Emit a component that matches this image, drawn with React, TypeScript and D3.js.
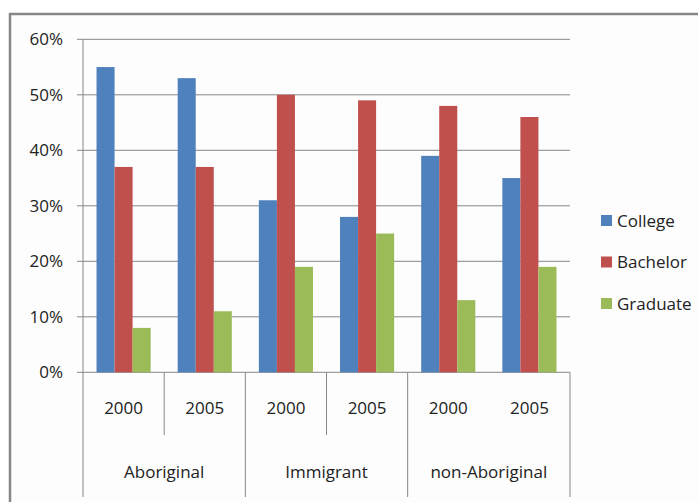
import React from "react";
import * as d3 from "d3";

const groups = ["Aboriginal", "Immigrant", "non-Aboriginal"];
const years = ["2000", "2005"];
const seriesNames = ["College", "Bachelor", "Graduate"];
const seriesColors = ["#4F81BD", "#C0504D", "#9BBB59"];
// values in percent, one row per (group, year) in order
const college = [55, 53, 31, 28, 39, 35];
const bachelor = [37, 37, 50, 49, 48, 46];
const graduate = [8, 11, 19, 25, 13, 19];
const yTicks = [0, 10, 20, 30, 40, 50, 60];

const W = 698;
const H = 502;
const plotL = 83;
const plotR = 570;
const plotT = 39.3;
const plotB = 372.3;
const FONT = "'Open Sans', sans-serif";
const GRID = "#868686";

export default function App() {
  const cats = groups.flatMap((g) => years.map((y) => `${g}|${y}`));
  const x = d3.scaleBand<string>().domain(cats).range([plotL, plotR]).padding(0);
  const inner = d3
    .scaleBand<string>()
    .domain(seriesNames)
    .range([0, x.bandwidth()])
    .paddingInner(0)
    .paddingOuter(0.75);
  const y = d3.scaleLinear().domain([0, 60]).range([plotB, plotT]);
  const series = [college, bachelor, graduate];

  const groupEdges = groups.map((_, i) => x(cats[i * 2])!).concat([plotR]);
  // year separators inside the first two groups
  const yearSeps = [x(cats[1])!, x(cats[3])!];

  return (
    <svg
      width={W}
      height={H}
      style={{ position: "absolute", left: 0, top: 0, background: "#fff" }}
      fontFamily={FONT}
    >
      <rect x={10} y={14} width={W + 20} height={H + 20} fill="#fdfdfd" stroke={GRID} strokeWidth={2.5} />

      {/* gridlines and y ticks */}
      {yTicks.map((t) => (
        <g key={t}>
          <line x1={77} x2={plotR} y1={y(t)} y2={y(t)} stroke={GRID} strokeWidth={1} />
          <text x={63} y={y(t) + 6} textAnchor="end" fontSize={17} fill="#222">
            {t}%
          </text>
        </g>
      ))}
      <line x1={plotL} x2={plotL} y1={plotT} y2={plotB} stroke={GRID} strokeWidth={1} />

      {/* bars */}
      {series.map((vals, si) =>
        vals.map((v, ci) => (
          <rect
            key={`${si}-${ci}`}
            x={x(cats[ci])! + inner(seriesNames[si])!}
            y={y(v)}
            width={inner.bandwidth()}
            height={plotB - y(v)}
            fill={seriesColors[si]}
          />
        ))
      )}

      {/* category axis */}
      {groupEdges.map((gx, i) => (
        <line key={`g${i}`} x1={gx} x2={gx} y1={plotB} y2={497} stroke={GRID} strokeWidth={1} />
      ))}
      {yearSeps.map((sx, i) => (
        <line key={`s${i}`} x1={sx} x2={sx} y1={plotB} y2={435} stroke={GRID} strokeWidth={1} />
      ))}
      {cats.map((c) => (
        <text
          key={c}
          x={x(c)! + x.bandwidth() / 2}
          y={414}
          textAnchor="middle"
          fontSize={17}
          fill="#222"
        >
          {c.split("|")[1]}
        </text>
      ))}
      {groups.map((g, i) => (
        <text
          key={g}
          x={(groupEdges[i] + groupEdges[i + 1]) / 2}
          y={478}
          textAnchor="middle"
          fontSize={17}
          fill="#222"
        >
          {g}
        </text>
      ))}

      {/* legend */}
      {seriesNames.map((s, i) => (
        <g key={s} transform={`translate(601, ${220.5 + i * 41.5})`}>
          <rect x={0} y={-5.5} width={11} height={11} fill={seriesColors[i]} />
          <text x={16} y={6} fontSize={17} fill="#222">
            {s}
          </text>
        </g>
      ))}
    </svg>
  );
}
